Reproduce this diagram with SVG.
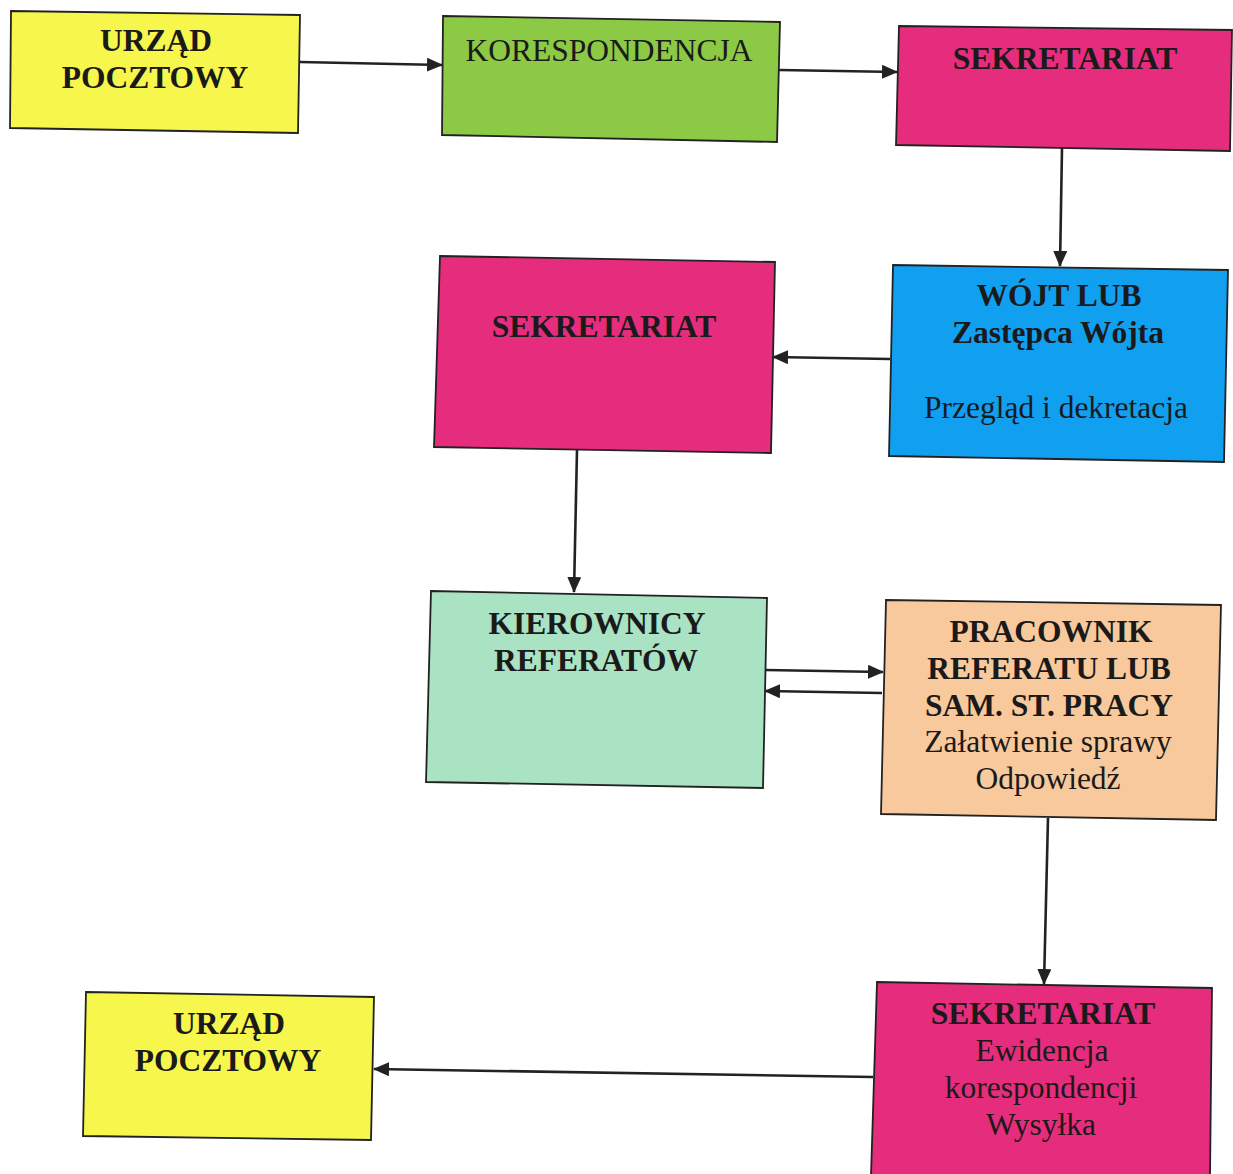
<svg xmlns="http://www.w3.org/2000/svg" width="1233" height="1174" viewBox="0 0 1233 1174">
<defs>
<style>
.box{stroke:#222;stroke-width:1.8}
.yellow{fill:#f6f64c}
.green{fill:#8cc944}
.pink{fill:#e62c7c}
.blue{fill:#119ff0}
.mint{fill:#aae2c4}
.peach{fill:#f8c99c}
.t{font-family:"Liberation Serif","Times New Roman",serif;font-size:31.5px;fill:#1a1a1a;text-anchor:middle}
.b{font-weight:bold}
.conn line{stroke:#222;stroke-width:2.6;fill:none}
</style>
<marker id="ah" markerWidth="16" markerHeight="14" refX="15" refY="7" orient="auto" markerUnits="userSpaceOnUse">
<path d="M0,0 L16,7 L0,14 z" fill="#222"/>
</marker>
</defs>
<rect width="1233" height="1174" fill="#ffffff"/>

<g id="urzad1">
<polygon class="box yellow" points="11,11 300,15 298,133 10,128"/>
<text class="t b" x="156" y="51">URZĄD</text>
<text class="t b" x="155" y="88">POCZTOWY</text>
</g>

<g id="korespondencja">
<polygon class="box green" points="443,16 780,22 777,142 442,135"/>
<text class="t" x="609" y="61">KORESPONDENCJA</text>
</g>

<g id="sekretariat1">
<polygon class="box pink" points="899,26 1232,30 1230,151 896,145"/>
<text class="t b" x="1065" y="69">SEKRETARIAT</text>
</g>

<g id="wojt">
<polygon class="box blue" points="893,265 1228,270 1224,462 889,456"/>
<text class="t b" x="1059" y="306">WÓJT LUB</text>
<text class="t b" x="1058" y="343">Zastępca Wójta</text>
<text class="t" x="1056" y="418">Przegląd i dekretacja</text>
</g>

<g id="sekretariat2">
<polygon class="box pink" points="440,256 775,262 771,453 434,447"/>
<text class="t b" x="604" y="337">SEKRETARIAT</text>
</g>

<g id="kierownicy">
<polygon class="box mint" points="431,591 767,598 763,788 426,782"/>
<text class="t b" x="597" y="634">KIEROWNICY</text>
<text class="t b" x="596" y="671">REFERATÓW</text>
</g>

<g id="pracownik">
<polygon class="box peach" points="886,600 1221,605 1216,820 881,814"/>
<text class="t b" x="1051" y="642">PRACOWNIK</text>
<text class="t b" x="1049" y="679">REFERATU LUB</text>
<text class="t b" x="1049" y="716">SAM. ST. PRACY</text>
<text class="t" x="1048" y="752">Załatwienie sprawy</text>
<text class="t" x="1048" y="789">Odpowiedź</text>
</g>

<g id="sekretariat3">
<polygon class="box pink" points="877,982 1212,988 1210,1178 871,1176"/>
<text class="t b" x="1043" y="1024">SEKRETARIAT</text>
<text class="t" x="1042" y="1061">Ewidencja</text>
<text class="t" x="1041" y="1098">korespondencji</text>
<text class="t" x="1041" y="1135">Wysyłka</text>
</g>

<g id="urzad2">
<polygon class="box yellow" points="86,992 374,997 371,1140 83,1136"/>
<text class="t b" x="229" y="1034">URZĄD</text>
<text class="t b" x="228" y="1071">POCZTOWY</text>
</g>

<g id="connectors" class="conn">
<line x1="300" y1="62" x2="442" y2="65" marker-end="url(#ah)"/>
<line x1="779" y1="70" x2="897" y2="72" marker-end="url(#ah)"/>
<line x1="1062" y1="148" x2="1060" y2="266" marker-end="url(#ah)"/>
<line x1="890" y1="359" x2="773" y2="357" marker-end="url(#ah)"/>
<line x1="577" y1="450" x2="574" y2="592" marker-end="url(#ah)"/>
<line x1="765" y1="670" x2="883" y2="672" marker-end="url(#ah)"/>
<line x1="882" y1="693" x2="765" y2="691" marker-end="url(#ah)"/>
<line x1="1048" y1="818" x2="1044" y2="984" marker-end="url(#ah)"/>
<line x1="873" y1="1077" x2="374" y2="1069" marker-end="url(#ah)"/>
</g>
</svg>
